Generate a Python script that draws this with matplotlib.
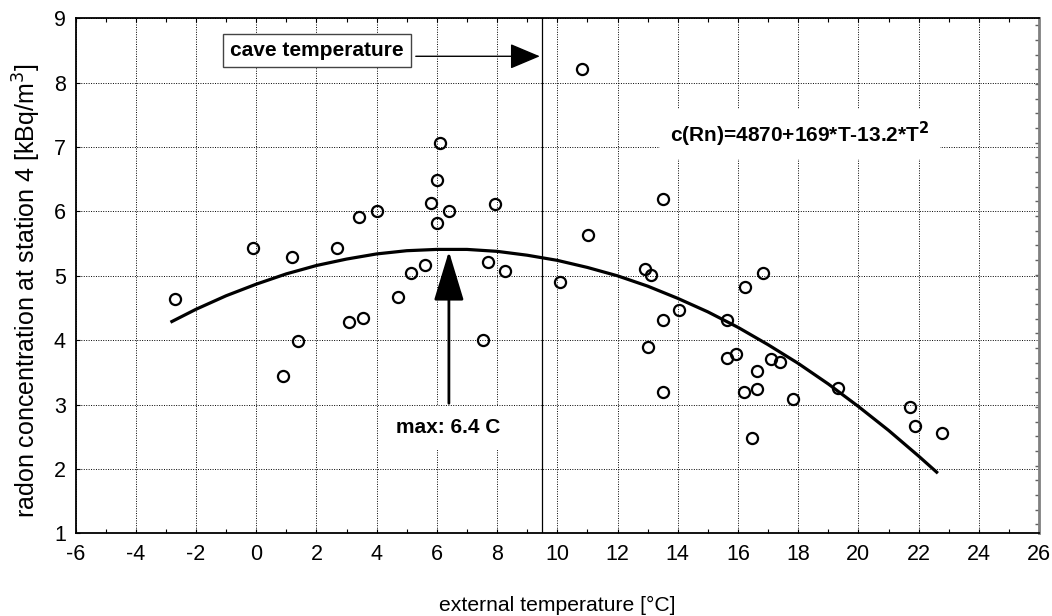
import matplotlib
matplotlib.use("Agg")
import matplotlib.pyplot as plt
from matplotlib.ticker import MultipleLocator
import numpy as np

# measured points: external temperature [C] vs radon [kBq/m3]
temp = [-2.70, -0.12, 0.90, 1.20, 1.38, 2.69, 3.09, 3.42, 3.56, 4.01,
        4.70, 5.15, 5.60, 5.81, 6.02, 6.02, 6.11, 6.41, 7.53, 7.71,
        7.92, 8.25, 10.10, 10.82, 11.01, 12.92, 13.01, 13.10, 13.50, 13.52,
        13.52, 14.04, 15.62, 15.62, 15.93, 16.19, 16.22, 16.45, 16.62, 16.62,
        16.82, 17.11, 17.39, 17.82, 19.31, 21.70, 21.89, 22.76]
radon = [4.64, 5.43, 3.45, 5.29, 3.98, 5.43, 4.28, 5.91, 4.35, 6.01,
         4.67, 5.05, 5.17, 6.13, 6.49, 5.82, 7.07, 6.01, 4.01, 5.22,
         6.12, 5.08, 4.90, 8.22, 5.64, 5.11, 3.90, 5.01, 3.19, 6.20,
         4.31, 4.47, 4.31, 3.72, 3.78, 3.19, 4.82, 2.48, 3.52, 3.24,
         5.04, 3.71, 3.66, 3.09, 3.26, 2.97, 2.66, 2.56]

# fitted curve
fit_t = [-2.8, -2, -1, 0, 1, 2, 3, 4, 5, 6, 7, 8, 9, 10, 11, 12,
         13, 14, 15, 16, 17, 18, 19, 20, 21, 22, 22.6]
fit_c = [4.29, 4.48, 4.69, 4.87, 5.03, 5.16, 5.26, 5.34, 5.39, 5.41,
         5.41, 5.38, 5.32, 5.24, 5.13, 5.00, 4.84, 4.65, 4.44, 4.20,
         3.93, 3.64, 3.32, 2.97, 2.60, 2.20, 1.95]

cave_temp = 9.5
max_temp = 6.4
fit_label = "c(Rn)=4870+169*T-13.2*T$^{\\mathbf{2}}$"

plt.rcParams['font.family'] = ['Liberation Sans', 'DejaVu Sans']
plt.rcParams['axes.unicode_minus'] = False
bold_font = ['Liberation Sans', 'DejaVu Sans']

fig = plt.figure(figsize=(10.52, 6.16), dpi=100)
ax = fig.add_axes([0.0718, 0.1342, 0.9159, 0.8361])

ax.plot(fit_t, fit_c, color='black', lw=2.3, zorder=3)
ax.plot(temp, radon, 'o', mfc='none', mec='black', ms=8, mew=1.6, zorder=4)

ax.axvline(cave_temp, color='black', lw=0.9, zorder=2)

ax.set_xlim(-6, 26)
ax.set_ylim(1, 9)
ax.xaxis.set_major_locator(MultipleLocator(2))
ax.xaxis.set_minor_locator(MultipleLocator(1))
ax.yaxis.set_major_locator(MultipleLocator(1))
ax.grid(True, which='major', color='black', lw=0.7, linestyle=(0, (1, 1.5)))
ax.tick_params(which='both', direction='in', top=True, right=False,
               labelsize=15.5, length=3, width=0.8, pad=8)
ax.tick_params(axis='y', pad=7)

for s in ['left', 'bottom', 'top']:
    ax.spines[s].set_linewidth(1.3)
ax.spines['right'].set_color('#808080')
ax.spines['right'].set_linewidth(2)

# small ticks along the grey right edge
sec = ax.secondary_yaxis('right')
sec.yaxis.set_major_locator(MultipleLocator(0.228))
sec.tick_params(direction='in', length=3, width=1, color='#606060', labelright=False)
sec.spines['right'].set_visible(False)

ax.set_xlabel("external temperature [°C]", fontsize=15.2, labelpad=22)
ax.set_ylabel("radon concentration at station 4 [kBq/m$^3$]", fontsize=18)
ax.yaxis.set_label_coords(-0.034, 0.47)

# cave temperature label + arrow
ax.text(2.02, 8.50, "cave temperature", fontsize=15, fontweight='bold',
        family=bold_font, ha='center', va='center', zorder=6,
        bbox=dict(boxstyle='square,pad=0.35', fc='white', ec='#444444', lw=1))
ax.annotate("", xy=(9.42, 8.41), xytext=(5.3, 8.41), zorder=6,
            arrowprops=dict(arrowstyle='-|>,head_length=0.95,head_width=0.4',
                            mutation_scale=20, color='black', lw=1,
                            shrinkA=0, shrinkB=0))

# max arrow
ax.annotate("", xy=(max_temp, 5.38), xytext=(max_temp, 3.02), zorder=6,
            arrowprops=dict(arrowstyle='-|>,head_length=1.55,head_width=0.47',
                            mutation_scale=20, color='black', lw=2,
                            shrinkA=0, shrinkB=0))
ax.text(6.36, 2.64, "max: 6.4 C", fontsize=15, fontweight='bold',
        family=bold_font, ha='center', va='center', zorder=5,
        bbox=dict(boxstyle='square,pad=0.6', fc='white', ec='none'))

ax.text(18.06, 7.2, fit_label, fontsize=15, fontweight='bold',
        family=bold_font, ha='center', va='center', zorder=5,
        bbox=dict(boxstyle='square,pad=0.5', fc='white', ec='none'))

fig.savefig("out.png", dpi=100)
